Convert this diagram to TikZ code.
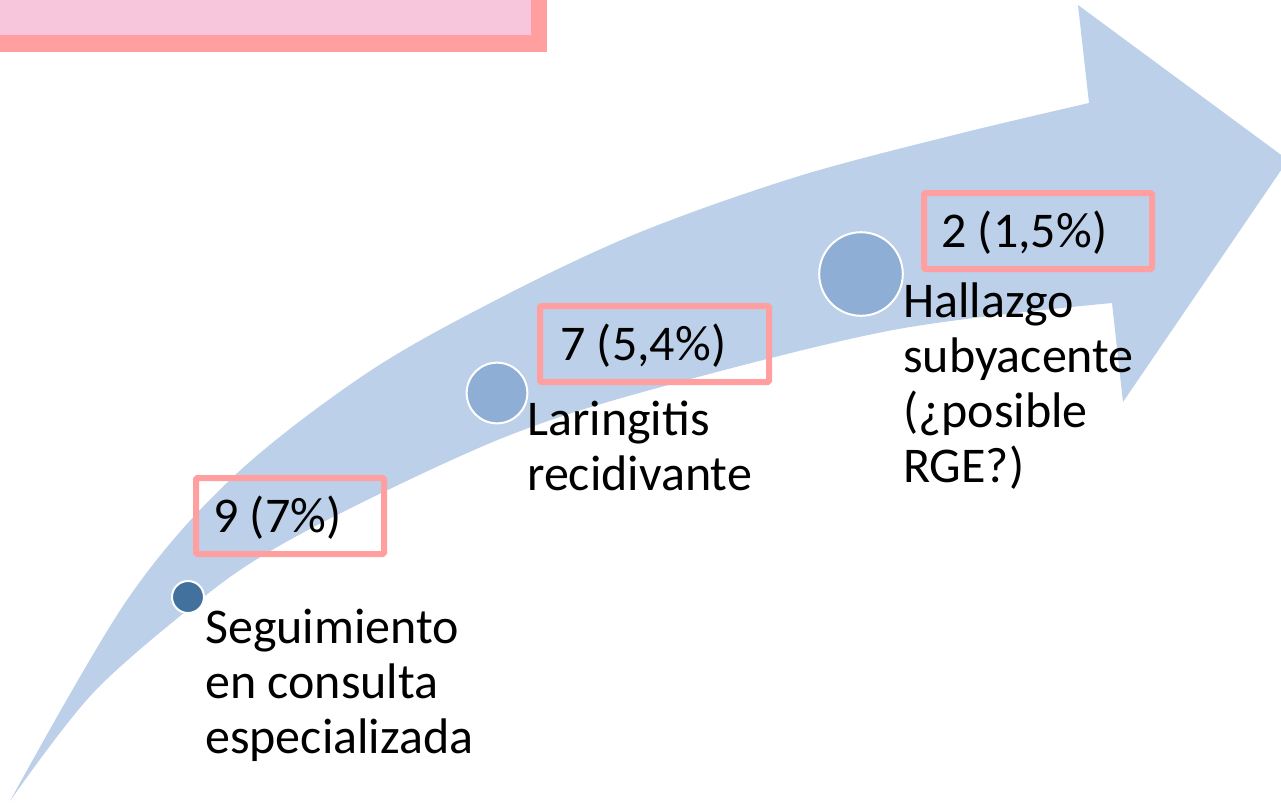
\documentclass[tikz,border=0pt]{standalone}
\usepackage{fontspec}
\setmainfont{Carlito}
\definecolor{arrowblue}{RGB}{189,208,233}
\definecolor{pinkfill}{RGB}{248,198,220}
\definecolor{salmon}{RGB}{255,159,159}
\definecolor{darkdot}{RGB}{65,113,156}
\definecolor{middot}{RGB}{142,174,214}
\tikzset{
  px/.style={x=0.75pt,y=-0.75pt},
  countbox/.style={draw=salmon, line width=4.5pt, rounded corners=1pt},
  counttext/.style={anchor=base west, inner sep=0pt, font={\fontsize{37.5}{41.25}\selectfont}},
  labeltext/.style={anchor=base west, inner sep=0pt, align=left, font={\fontsize{37.5}{41.25}\selectfont}},
  dot/.style={circle, draw=white, line width=1.5pt, inner sep=0pt}
}
\begin{document}
\begin{tikzpicture}[px]
\useasboundingbox (0,0) rectangle (1281,804);
\clip (0,0) rectangle (1281,804);
% title banner corner
\draw[fill=pinkfill, draw=salmon, line width=12.4pt] (-40,-40) rectangle (539,43.5);
% curved arrow
\fill[arrowblue] plot[smooth, tension=0.55] coordinates {(10,801) (127,600) (233,477) (367,373) (500,298) (638,233) (796,177) (954,135) (1089,103)}
  -- (1078,5) -- (1288,160) -- (1123,402) -- (1112,303)
  -- plot[smooth, tension=0.55] coordinates {(1112,303) (893,330) (650,390) (510,435) (367,500) (267,553) (200,600) (93,693) (10,801)}
  -- cycle;
% dots
\node[dot, fill=darkdot, minimum size=24pt] (d1) at (188,597) {};
\node[dot, fill=middot, minimum size=45.5pt] (d2) at (497,393) {};
\node[dot, fill=middot, minimum size=62.7pt] (d3) at (861,274) {};
% count boxes
\draw[countbox] (196,478) rectangle (384,554);
\draw[countbox] (540,306) rectangle (769,382);
\draw[countbox] (924,193) rectangle (1152,269);
\node[counttext] (c1) at (213,532) {9 (7\%)};
\node[counttext] (c2) at (560,360) {7 (5,4\%)};
\node[counttext] (c3) at (941,247) {2 (1,5\%)};
% labels (base anchor = baseline of last line)
\node[labeltext] (l1) at (205,753) {Seguimiento\\en consulta\\especializada};
\node[labeltext] (l2) at (527,490) {Laringitis\\recidivante};
\node[labeltext] (l3) at (903,482) {Hallazgo\\subyacente\\(¿posible\\RGE?)};
\end{tikzpicture}
\end{document}
